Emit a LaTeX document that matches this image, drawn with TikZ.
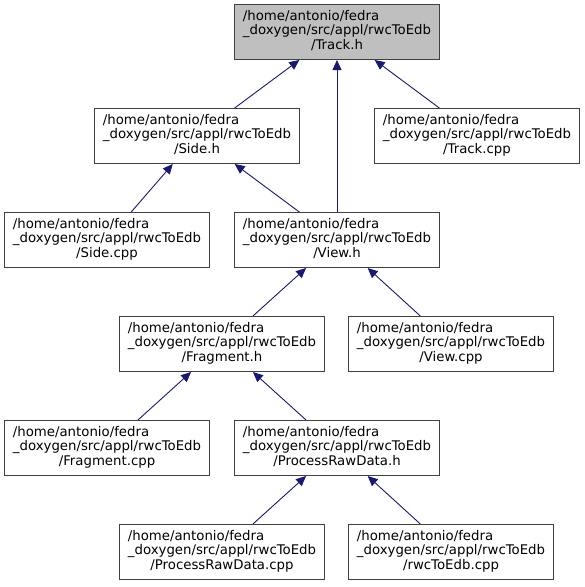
\documentclass[tikz,border=0pt]{standalone}
\usepackage{fontspec}
\setmainfont{DejaVu Sans}
\usetikzlibrary{positioning,arrows.meta}
\definecolor{edgeblue}{RGB}{25,25,112}
\definecolor{boxgray}{RGB}{191,191,191}
\newcommand{\filepath}[1]{%
  \begin{tabular}{@{}l@{}}
  /home/antonio/fedra\\
  \_doxygen/src/appl/rwcToEdb\\
  \multicolumn{1}{@{}c@{}}{/#1}
  \end{tabular}}
\tikzset{
  file/.style={draw=black!75, line width=1pt, minimum width=205pt,
    minimum height=55pt, inner sep=0pt,
    font=\fontsize{13.3}{14.5}\selectfont},
  link/.style={edgeblue, line width=0.9pt,
    -{Triangle[length=10pt,width=9pt]}},
}
\begin{document}
\begin{tikzpicture}[on grid]
  \path[use as bounding box] (0,0) rectangle (585pt,-587pt);
  \node[file, fill=boxgray] (track) at (337pt,-32pt) {\filepath{Track.h}};
  \node[file] (side) [below left=104pt and 140pt of track] {\filepath{Side.h}};
  \node[file] (trackcpp) [below right=104pt and 140pt of track] {\filepath{Track.cpp}};
  \node[file] (sidecpp) [below left=104pt and 90pt of side] {\filepath{Side.cpp}};
  \node[file] (view) [below=208pt of track] {\filepath{View.h}};
  \node[file] (fragment) [below left=104pt and 115pt of view] {\filepath{Fragment.h}};
  \node[file] (viewcpp) [below right=104pt and 114pt of view] {\filepath{View.cpp}};
  \node[file] (fragmentcpp) [below left=104pt and 115pt of fragment] {\filepath{Fragment.cpp}};
  \node[file] (rawdata) [below right=104pt and 115pt of fragment] {\filepath{ProcessRawData.h}};
  \node[file] (rawdatacpp) [below left=104pt and 115pt of rawdata] {\filepath{ProcessRawData.cpp}};
  \node[file] (rwccpp) [below right=104pt and 114pt of rawdata] {\filepath{rwcToEdb.cpp}};
  \path[link]
    (side) edge (track)
    (view) edge (track)
    (trackcpp) edge (track)
    (sidecpp) edge (side)
    (view) edge (side)
    (fragment) edge (view)
    (viewcpp) edge (view)
    (fragmentcpp) edge (fragment)
    (rawdata) edge (fragment)
    (rawdatacpp) edge (rawdata)
    (rwccpp) edge (rawdata);
\end{tikzpicture}
\end{document}
